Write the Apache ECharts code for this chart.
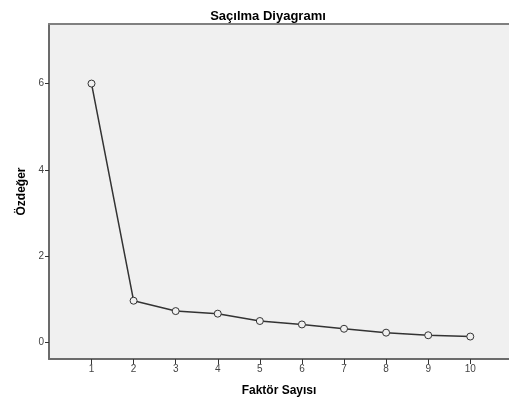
<!DOCTYPE html>
<html>
<head>
<meta charset="utf-8">
<script src="https://cdn.jsdelivr.net/npm/echarts@6/dist/echarts.min.js"></script>
<style>
  html, body { margin: 0; padding: 0; background: #fff; }
  #chart { width: 509px; height: 402px; }
</style>
</head>
<body>
<div id="chart"></div>
<script>
var factors = [1, 2, 3, 4, 5, 6, 7, 8, 9, 10];
var eigenvalues = [6.0, 0.97, 0.73, 0.67, 0.50, 0.42, 0.32, 0.23, 0.17, 0.14];
var yTicks = [0, 2, 4, 6];
var xTicks = [1, 2, 3, 4, 5, 6, 7, 8, 9, 10];

var chartDom = document.getElementById('chart');
var myChart = echarts.init(chartDom);
var option;

var points = factors.map(function (f, i) { return [f, eigenvalues[i]]; });

option = {
    backgroundColor: '#fff',
    textStyle: { fontFamily: 'Liberation Sans, Arial, sans-serif' },
    title: {
        text: 'Saçılma Diyagramı',
        left: 263,
        top: 5,
        textAlign: 'center',
        textStyle: { fontSize: 13, fontWeight: 'bold', color: '#000' }
    },
    grid: {
        left: 49,
        top: 24,
        right: 0,
        bottom: 40,
        show: true,
        backgroundColor: '#f0f0f0',
        borderWidth: 0
    },
    xAxis: [
        {
            type: 'value',
            min: -0.01,
            max: 10.92,
            name: 'Faktör Sayısı',
            nameLocation: 'middle',
            nameGap: 26,
            nameTextStyle: { fontSize: 12, fontWeight: 'bold', color: '#000' },
            splitLine: { show: false },
            axisLine: { onZero: false, lineStyle: { color: '#6b6b6b', width: 2 } },
            axisTick: { customValues: xTicks, length: 5, lineStyle: { color: '#333' } },
            axisLabel: { customValues: xTicks, fontSize: 10, color: '#444', margin: 5 }
        },
        {
            type: 'value',
            position: 'top',
            min: -0.01,
            max: 10.92,
            splitLine: { show: false },
            axisLine: { show: true, onZero: false, lineStyle: { color: '#808080', width: 2 } },
            axisTick: { show: false },
            axisLabel: { show: false }
        }
    ],
    yAxis: {
        type: 'value',
        min: -0.38,
        max: 7.38,
        name: 'Özdeğer',
        nameLocation: 'middle',
        nameGap: 19,
        nameRotate: 90,
        nameTextStyle: { fontSize: 12, fontWeight: 'bold', color: '#000' },
        splitLine: { show: false },
        axisLine: { show: true, onZero: false, lineStyle: { color: '#6b6b6b', width: 2 } },
        axisTick: { show: true, customValues: yTicks, length: 4, lineStyle: { color: '#333' } },
        axisLabel: { customValues: yTicks, fontSize: 10, color: '#444', margin: 5 }
    },
    series: [
        {
            type: 'line',
            data: points,
            symbol: 'circle',
            symbolSize: 7,
            lineStyle: { color: '#333', width: 1.5 },
            itemStyle: { color: '#f0f0f0', borderColor: '#333', borderWidth: 1 },
            animation: false
        }
    ]
};

option && myChart.setOption(option);
</script>
</body>
</html>
